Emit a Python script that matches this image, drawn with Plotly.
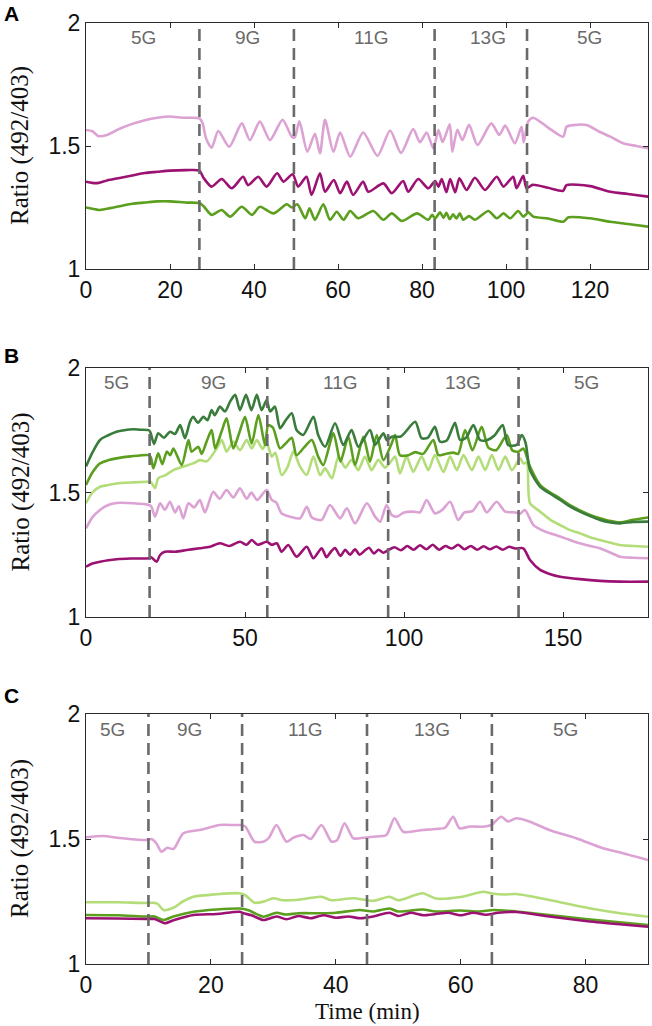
import plotly.graph_objects as go

# ---------------- Panel A data ----------------
A_switch = [27, 49.5, 83, 105]
A_labels = ["5G", "9G", "11G", "13G", "5G"]
A_label_t = [13.6, 38.5, 68, 95.7, 119.8]
A_xticks = [0, 20, 40, 60, 80, 100, 120]

A_pink_t = [0, 1.5, 3, 5, 8, 11, 14, 17, 20, 23, 25, 27, 27.8, 28.6, 29.9, 31.5, 34.1, 37.1, 39, 41.4, 43.8, 46.8, 49, 49.7, 50.8, 52.7, 54.5, 55.7, 56.9, 58.9, 60.5, 62.9, 66, 69.4, 72.4, 75, 77.9, 79.5, 81.1, 82.7, 83.9, 84.9, 86.6, 87.2, 88.4, 89.6, 91.2, 93.2, 96.5, 98.4, 99.8, 102.1, 103.7, 104.2, 105.3, 106.5, 110, 113.6, 114.4, 116, 119.2, 122, 124.8, 127.9, 131, 134]
A_pink_y = [1.565, 1.56, 1.54, 1.545, 1.57, 1.59, 1.605, 1.615, 1.62, 1.615, 1.615, 1.612, 1.59, 1.53, 1.493, 1.561, 1.497, 1.592, 1.524, 1.599, 1.524, 1.606, 1.538, 1.535, 1.60, 1.477, 1.55, 1.47, 1.606, 1.477, 1.555, 1.457, 1.555, 1.46, 1.563, 1.472, 1.569, 1.515, 1.555, 1.49, 1.565, 1.516, 1.588, 1.477, 1.566, 1.524, 1.586, 1.504, 1.592, 1.545, 1.583, 1.511, 1.578, 1.515, 1.60, 1.615, 1.575, 1.538, 1.578, 1.585, 1.585, 1.56, 1.538, 1.511, 1.50, 1.49]

A_mag_t = [0, 1.5, 3, 5, 8, 11, 14, 17, 20, 24, 27, 28, 29.9, 32.3, 34.7, 37.4, 38.6, 41, 43, 45.5, 47, 49.2, 50.5, 52.5, 53.7, 55.7, 56.9, 59, 60.5, 62.1, 63.6, 66, 67.2, 70.8, 72.8, 75.5, 76.7, 79.1, 81.5, 83.1, 83.9, 84.7, 85.8, 86.7, 87.9, 88.9, 90.6, 92.6, 95, 97.8, 99.4, 101.7, 102.5, 104.1, 104.9, 106.3, 110, 113.6, 114.4, 120, 124.8, 129, 134]
A_mag_y = [1.355, 1.35, 1.35, 1.36, 1.37, 1.38, 1.39, 1.395, 1.40, 1.402, 1.40, 1.37, 1.335, 1.366, 1.328, 1.375, 1.341, 1.375, 1.335, 1.389, 1.355, 1.385, 1.335, 1.375, 1.301, 1.389, 1.314, 1.362, 1.308, 1.355, 1.301, 1.355, 1.314, 1.348, 1.308, 1.358, 1.314, 1.366, 1.328, 1.358, 1.335, 1.366, 1.312, 1.366, 1.312, 1.369, 1.321, 1.371, 1.321, 1.375, 1.335, 1.375, 1.328, 1.379, 1.328, 1.342, 1.33, 1.318, 1.341, 1.337, 1.314, 1.305, 1.294]

A_grn_t = [0, 1.5, 3, 5, 8, 11, 14, 17, 20, 24, 27, 28, 29.9, 32.3, 34.3, 37.1, 39.5, 41.4, 44.6, 47.8, 49, 50.3, 52.2, 53.2, 54.5, 56.5, 58.1, 59.7, 61.3, 62.9, 64.8, 68.4, 70.8, 72.8, 75.2, 78.8, 81.5, 82.4, 83.1, 84.3, 85.1, 85.8, 86.6, 87.4, 88.2, 89, 89.8, 91.2, 92.6, 95.8, 97.8, 99.4, 101, 102.9, 104.1, 105.3, 106.5, 110, 113.6, 114.9, 120, 124.8, 129, 134]
A_grn_y = [1.25, 1.245, 1.24, 1.245, 1.255, 1.265, 1.27, 1.275, 1.275, 1.27, 1.268, 1.255, 1.22, 1.24, 1.213, 1.253, 1.22, 1.253, 1.226, 1.263, 1.25, 1.263, 1.206, 1.247, 1.2, 1.263, 1.2, 1.233, 1.2, 1.236, 1.206, 1.236, 1.2, 1.226, 1.195, 1.226, 1.2, 1.22, 1.205, 1.23, 1.208, 1.228, 1.203, 1.222, 1.205, 1.226, 1.2, 1.215, 1.2, 1.236, 1.206, 1.226, 1.206, 1.236, 1.213, 1.23, 1.213, 1.205, 1.192, 1.21, 1.206, 1.192, 1.183, 1.172]

# ---------------- Panel B data ----------------
B_switch = [20, 57, 95, 136]
B_labels = ["5G", "9G", "11G", "13G", "5G"]
B_label_t = [9.5, 40, 80, 118.5, 157.5]
B_xticks = [0, 50, 100, 150]

B_dg_t = [0, 2, 4.4, 7, 9.6, 12, 14.9, 17, 19.8, 20.3, 21.4, 22.7, 24.5, 26.4, 28, 29.6, 31.1, 32.7, 33.7, 35.2, 36.9, 38.2, 39.5, 40.5, 42.1, 43.7, 45.3, 46.9, 48.4, 50.3, 52, 53.7, 55.2, 56.8, 57.9, 59.4, 61, 62.8, 64.7, 66.2, 68.3, 71.5, 73, 75.2, 78.3, 80.9, 83.5, 85.6, 89.3, 90.9, 93.5, 94.6, 96.1, 99, 103.5, 105.5, 107.5, 109.7, 111.3, 113.5, 116, 117.6, 119.5, 121.8, 123.9, 126, 128.5, 131, 132.7, 135.4, 137, 138.2, 139.6, 142.8, 146, 149.1, 152, 155.3, 158.5, 161.6, 165, 167.9, 172, 176.8]
B_dg_y = [1.604, 1.66, 1.711, 1.73, 1.744, 1.75, 1.754, 1.752, 1.75, 1.74, 1.695, 1.738, 1.72, 1.744, 1.735, 1.771, 1.718, 1.784, 1.804, 1.78, 1.804, 1.79, 1.831, 1.81, 1.845, 1.825, 1.865, 1.892, 1.831, 1.892, 1.831, 1.892, 1.831, 1.871, 1.825, 1.845, 1.758, 1.79, 1.818, 1.751, 1.731, 1.804, 1.731, 1.684, 1.778, 1.691, 1.751, 1.684, 1.751, 1.691, 1.738, 1.71, 1.724, 1.725, 1.784, 1.718, 1.72, 1.764, 1.704, 1.71, 1.78, 1.711, 1.72, 1.771, 1.711, 1.71, 1.73, 1.771, 1.691, 1.691, 1.731, 1.70, 1.59, 1.523, 1.495, 1.47, 1.445, 1.423, 1.405, 1.39, 1.38, 1.376, 1.382, 1.383]

B_mg_t = [0, 2, 4.4, 7, 9.6, 14, 19.8, 20.4, 21.2, 22.7, 24, 25.4, 26.5, 27.5, 30.1, 32.2, 33.2, 35.3, 36.4, 37.9, 39.5, 40.6, 42.6, 44.2, 46.3, 48.2, 50, 52.1, 54.2, 56.3, 57.3, 58.8, 61, 63, 64.7, 66.2, 68.5, 71, 73, 74.6, 77.8, 80, 82.5, 84.6, 87.2, 89.3, 91.4, 93.5, 96.1, 97.2, 98.7, 101.4, 103.5, 106, 109.2, 110.8, 113, 115.5, 117, 119.2, 121.5, 124.4, 126.5, 129, 132.3, 134, 136, 137.5, 139.6, 142.8, 146, 149.1, 152, 155.3, 158.5, 161.6, 165, 167.9, 172, 176.8]
B_mg_y = [1.53, 1.58, 1.617, 1.63, 1.637, 1.645, 1.65, 1.64, 1.597, 1.657, 1.614, 1.664, 1.65, 1.677, 1.61, 1.711, 1.664, 1.684, 1.655, 1.704, 1.751, 1.677, 1.744, 1.798, 1.677, 1.74, 1.804, 1.697, 1.811, 1.69, 1.771, 1.76, 1.677, 1.70, 1.72, 1.65, 1.68, 1.711, 1.644, 1.61, 1.738, 1.624, 1.724, 1.61, 1.724, 1.624, 1.731, 1.63, 1.697, 1.731, 1.65, 1.65, 1.662, 1.655, 1.711, 1.65, 1.655, 1.66, 1.655, 1.751, 1.67, 1.764, 1.68, 1.67, 1.731, 1.67, 1.664, 1.677, 1.604, 1.53, 1.50, 1.476, 1.45, 1.428, 1.41, 1.397, 1.385, 1.38, 1.39, 1.40]

B_lg_t = [0, 2, 4.4, 7, 9.6, 14, 19.8, 20.5, 21.7, 22.7, 25, 27.5, 30.6, 33.7, 35.8, 38, 41.1, 42.7, 44.2, 46.3, 48.4, 50.5, 52.1, 53.7, 55.5, 56.8, 58.4, 59.5, 61.5, 63.3, 65.2, 67.3, 69.4, 71.5, 73.6, 75.2, 77.3, 79.4, 81.5, 83.5, 85.6, 87.7, 89.8, 91.9, 94, 95.6, 97.2, 98.7, 100.8, 102.9, 105.5, 107.6, 109.7, 112.4, 114.5, 116.6, 118.7, 121.3, 123.4, 125.5, 127.6, 129.7, 131.8, 133.9, 136.5, 137.5, 138.6, 139.6, 142.8, 146, 149.1, 152, 155.3, 158.5, 161.6, 165, 167.9, 172, 176.8]
B_lg_y = [1.457, 1.50, 1.523, 1.53, 1.536, 1.54, 1.543, 1.54, 1.517, 1.557, 1.57, 1.59, 1.604, 1.617, 1.63, 1.625, 1.677, 1.711, 1.664, 1.704, 1.67, 1.711, 1.677, 1.711, 1.675, 1.70, 1.644, 1.66, 1.57, 1.60, 1.664, 1.604, 1.57, 1.644, 1.57, 1.597, 1.557, 1.644, 1.60, 1.631, 1.59, 1.644, 1.59, 1.631, 1.60, 1.62, 1.644, 1.577, 1.644, 1.583, 1.644, 1.59, 1.65, 1.583, 1.644, 1.59, 1.65, 1.59, 1.644, 1.59, 1.65, 1.59, 1.644, 1.59, 1.637, 1.617, 1.62, 1.457, 1.423, 1.39, 1.369, 1.35, 1.336, 1.32, 1.309, 1.298, 1.289, 1.285, 1.282]

B_pk_t = [0, 2, 4.4, 7, 9.6, 14.9, 19.8, 20.5, 21.7, 23.3, 24.8, 26.4, 28, 29.2, 30.6, 32.2, 34, 35.8, 37.4, 40, 42, 44.2, 46.3, 48.4, 50.5, 52, 53.8, 56.8, 58.4, 59.8, 61.5, 64.2, 67.3, 69.4, 71, 74.1, 76.7, 79.9, 82, 84.6, 88.3, 90.9, 92.5, 94.5, 96.1, 97.7, 100, 102.9, 105, 107.1, 109.7, 112, 114.5, 117, 119, 121.5, 123.9, 126, 129.1, 131.8, 135, 136.5, 138, 140.7, 144, 149.1, 152, 155.3, 158.5, 161.6, 165, 167.9, 172, 176.8]
B_pk_y = [1.356, 1.40, 1.43, 1.45, 1.458, 1.457, 1.45, 1.445, 1.403, 1.457, 1.43, 1.463, 1.42, 1.445, 1.396, 1.457, 1.44, 1.47, 1.42, 1.503, 1.475, 1.51, 1.48, 1.517, 1.475, 1.50, 1.47, 1.51, 1.47, 1.46, 1.416, 1.403, 1.396, 1.443, 1.40, 1.39, 1.45, 1.396, 1.437, 1.376, 1.457, 1.403, 1.383, 1.45, 1.41, 1.403, 1.42, 1.423, 1.42, 1.47, 1.416, 1.43, 1.463, 1.39, 1.42, 1.425, 1.463, 1.42, 1.463, 1.423, 1.42, 1.415, 1.43, 1.369, 1.345, 1.323, 1.31, 1.296, 1.285, 1.276, 1.258, 1.242, 1.238, 1.236]

B_mag_t = [0, 2, 4.4, 7, 9.6, 14, 19.8, 20.5, 22.2, 23.3, 24.8, 28, 31.7, 35.8, 39, 42.1, 45, 48.4, 50.5, 52.1, 54, 56.8, 58.4, 60, 61.5, 63.6, 66.2, 69.4, 71.5, 74.1, 75.6, 77, 78.3, 80, 81.5, 83, 84.6, 86, 87.5, 89, 90.5, 92, 93.5, 95, 97, 99, 101, 103, 105, 107, 109, 111, 113, 115, 117, 119, 121, 123, 125, 127, 129, 131, 133, 135, 137.5, 139.6, 142.8, 146, 149.1, 155.3, 161.6, 167.9, 176.8]
B_mag_y = [1.202, 1.215, 1.222, 1.228, 1.232, 1.235, 1.236, 1.24, 1.222, 1.249, 1.262, 1.262, 1.269, 1.276, 1.282, 1.296, 1.285, 1.302, 1.29, 1.309, 1.29, 1.302, 1.29, 1.296, 1.262, 1.289, 1.242, 1.282, 1.236, 1.276, 1.24, 1.262, 1.277, 1.245, 1.27, 1.25, 1.272, 1.25, 1.265, 1.278, 1.255, 1.27, 1.258, 1.268, 1.28, 1.268, 1.285, 1.27, 1.288, 1.272, 1.29, 1.27, 1.285, 1.275, 1.29, 1.272, 1.285, 1.27, 1.284, 1.272, 1.283, 1.27, 1.282, 1.275, 1.276, 1.229, 1.189, 1.172, 1.162, 1.152, 1.145, 1.142, 1.142]

# ---------------- Panel C data ----------------
C_switch = [10, 25, 45, 65]
C_labels = ["5G", "9G", "11G", "13G", "5G"]
C_label_t = [4.2, 16.6, 35.2, 55.4, 76.8]
C_xticks = [0, 20, 40, 60, 80]

C_pk_t = [0, 2.8, 5, 9.7, 10.5, 11.2, 12.1, 13, 14, 15.6, 18.2, 21.4, 23.6, 24.6, 25.5, 27, 28.5, 29.3, 30.5, 32.1, 33.2, 34.8, 36, 37.7, 39.3, 40.2, 41.4, 42.8, 44.5, 46, 48.1, 49.4, 50.8, 53.9, 56, 57.5, 58.8, 59.8, 61.5, 63.6, 64.9, 66.5, 67.6, 68.9, 71, 74.2, 78.5, 82.8, 86, 90]
C_pk_y = [1.507, 1.512, 1.505, 1.496, 1.50, 1.485, 1.449, 1.465, 1.46, 1.523, 1.536, 1.556, 1.556, 1.556, 1.55, 1.489, 1.49, 1.505, 1.556, 1.489, 1.505, 1.516, 1.50, 1.556, 1.49, 1.495, 1.563, 1.503, 1.505, 1.509, 1.516, 1.583, 1.529, 1.536, 1.54, 1.545, 1.589, 1.543, 1.55, 1.549, 1.556, 1.589, 1.57, 1.583, 1.57, 1.536, 1.503, 1.463, 1.443, 1.416]

C_lg_t = [0, 5, 9.7, 10.8, 11.5, 12.4, 14, 15.5, 17.2, 20.9, 24.6, 25.5, 27, 28.5, 30, 31.5, 34, 37.7, 39.3, 42.8, 46, 48.6, 50, 53.9, 56, 60, 63.6, 65, 67, 68.9, 74.2, 80.6, 85, 90]
C_lg_y = [1.247, 1.247, 1.244, 1.245, 1.24, 1.216, 1.225, 1.25, 1.269, 1.279, 1.283, 1.275, 1.245, 1.25, 1.263, 1.255, 1.257, 1.269, 1.255, 1.263, 1.253, 1.269, 1.255, 1.283, 1.262, 1.268, 1.289, 1.282, 1.278, 1.28, 1.256, 1.223, 1.205, 1.189]

C_mg_t = [0, 5, 9.7, 11, 12.4, 14, 17.2, 20.9, 24.6, 26, 28.4, 30.5, 32, 34, 37.7, 40, 43.8, 46, 48.6, 50, 53.9, 56, 60, 63, 65.2, 68.9, 74.2, 80, 85, 90]
C_mg_y = [1.196, 1.195, 1.19, 1.19, 1.176, 1.19, 1.209, 1.218, 1.222, 1.215, 1.189, 1.205, 1.198, 1.203, 1.203, 1.205, 1.216, 1.21, 1.222, 1.21, 1.218, 1.21, 1.214, 1.21, 1.216, 1.21, 1.196, 1.18, 1.168, 1.156]

C_mag_t = [0, 5, 9.7, 11, 12.6, 14, 17.2, 20.9, 24.6, 25.2, 26.5, 28.4, 30.5, 32.1, 34, 36, 38, 40, 42, 44, 46, 48.6, 50, 52, 54, 56, 58, 60, 62, 64, 66, 68.9, 74.2, 80, 85, 90]
C_mag_y = [1.183, 1.182, 1.18, 1.18, 1.163, 1.175, 1.196, 1.2, 1.209, 1.203, 1.195, 1.176, 1.19, 1.179, 1.192, 1.183, 1.195, 1.185, 1.19, 1.183, 1.19, 1.205, 1.192, 1.205, 1.195, 1.2, 1.205, 1.195, 1.205, 1.197, 1.205, 1.208, 1.19, 1.172, 1.16, 1.149]

y_ticks = [1, 1.5, 2]
y_ticktext = ["1", "1.5", "2"]

# ---------------- styling ----------------
PINK = "#dca2d3"
MAG = "#9c1273"
MGREEN = "#5c9f1f"
DGREEN = "#3a7c3c"
LGREEN = "#b3dd78"
W = 2.6
FIGW, FIGH = 652, 1026

panels = [
    dict(series=[(A_pink_t, A_pink_y, PINK), (A_mag_t, A_mag_y, MAG), (A_grn_t, A_grn_y, MGREEN)],
         switch=A_switch, labels=A_labels, label_t=A_label_t, xticks=A_xticks,
         xrange=[0, 133.8], top=23, bottom=269, letter="A"),
    dict(series=[(B_pk_t, B_pk_y, PINK), (B_mag_t, B_mag_y, MAG), (B_lg_t, B_lg_y, LGREEN),
                 (B_mg_t, B_mg_y, MGREEN), (B_dg_t, B_dg_y, DGREEN)],
         switch=B_switch, labels=B_labels, label_t=B_label_t, xticks=B_xticks,
         xrange=[0, 176.7], top=368, bottom=617, letter="B"),
    dict(series=[(C_pk_t, C_pk_y, PINK), (C_lg_t, C_lg_y, LGREEN), (C_mg_t, C_mg_y, MGREEN),
                 (C_mag_t, C_mag_y, MAG)],
         switch=C_switch, labels=C_labels, label_t=C_label_t, xticks=C_xticks,
         xrange=[0, 90], top=714, bottom=964, letter="C"),
]

fig = go.Figure()
shapes = []
annotations = []
LEFT, RIGHT = 86, 648
AXCOL = "#2b2b2b"
tickfont = dict(family="Liberation Sans, Arial, sans-serif", size=23, color="#111")

for i, p in enumerate(panels):
    n = "" if i == 0 else str(i + 1)
    xa, ya = "x" + n, "y" + n
    for (t, y, c) in p["series"]:
        assert len(t) == len(y), (p["letter"], len(t), len(y))
        fig.add_trace(go.Scatter(x=t, y=y, mode="lines", xaxis=xa, yaxis=ya,
                                 line=dict(color=c, width=W, shape="spline", smoothing=0.7),
                                 showlegend=False, hoverinfo="skip"))
    ydom = [1 - p["bottom"] / FIGH, 1 - p["top"] / FIGH]
    fig.layout["xaxis" + n] = dict(
        domain=[LEFT / FIGW, RIGHT / FIGW], anchor=ya, range=p["xrange"], automargin=False,
        tickvals=p["xticks"], ticks="inside", ticklen=5, tickcolor=AXCOL, tickwidth=1,
        showline=True, linecolor=AXCOL, linewidth=1, mirror="ticks",
        showgrid=False, zeroline=False, tickfont=tickfont)
    fig.layout["yaxis" + n] = dict(
        domain=ydom, anchor=xa, range=[1, 2], tickvals=y_ticks, ticktext=y_ticktext,
        automargin=False, ticks="inside", ticklen=5, tickcolor=AXCOL, tickwidth=1,
        showline=True, linecolor=AXCOL, linewidth=1, mirror="ticks",
        showgrid=False, zeroline=False, tickfont=tickfont)
    for s in p["switch"]:
        shapes.append(dict(type="line", xref=xa, yref=ya + " domain", x0=s, x1=s, y0=0, y1=1,
                           line=dict(color="#6a6a6a", width=2.6, dash="12px,7px"), layer="above"))
    for lab, lt in zip(p["labels"], p["label_t"]):
        annotations.append(dict(text=lab, xref=xa, yref=ya + " domain", x=lt, y=0.94,
                                xanchor="center", yanchor="middle", showarrow=False,
                                font=dict(family="Liberation Sans, Arial, sans-serif", size=19,
                                          color="#6a6a6a")))
    # y-axis title
    annotations.append(dict(text="Ratio (492/403)", xref="paper", yref="paper",
                            x=20 / FIGW, y=(ydom[0] + ydom[1]) / 2, textangle=-90,
                            xanchor="center", yanchor="middle", showarrow=False,
                            font=dict(family="Liberation Serif, Times New Roman, serif",
                                      size=25, color="#111")))
    # panel letter
    letter_y = {"A": 13, "B": 355, "C": 695}[p["letter"]]
    annotations.append(dict(text="<b>" + p["letter"] + "</b>", xref="paper", yref="paper",
                            x=11 / FIGW, y=1 - letter_y / FIGH, xanchor="center",
                            yanchor="middle", showarrow=False,
                            font=dict(family="Liberation Sans, Arial, sans-serif", size=21,
                                      color="#000")))

annotations.append(dict(text="Time (min)", xref="paper", yref="paper",
                        x=(LEFT + RIGHT) / 2 / FIGW, y=1 - 1011 / FIGH, xanchor="center",
                        yanchor="middle", showarrow=False,
                        font=dict(family="Liberation Serif, Times New Roman, serif",
                                  size=23, color="#111")))

fig.update_layout(width=FIGW, height=FIGH, margin=dict(l=0, r=0, t=0, b=0),
                  paper_bgcolor="white", plot_bgcolor="white",
                  shapes=shapes, annotations=annotations, showlegend=False)

post = ("document.documentElement.style.margin='0';"
        "document.documentElement.style.overflow='hidden';"
        "document.body.style.margin='0';document.body.style.padding='0';"
        "document.body.style.overflow='hidden';"
        "var gd=document.getElementById('{plot_id}');"
        "Plotly.relayout(gd,{width:652,height:1026});")

fig.write_html("out.html", config={"responsive": False, "displayModeBar": False},
               post_script=post)
